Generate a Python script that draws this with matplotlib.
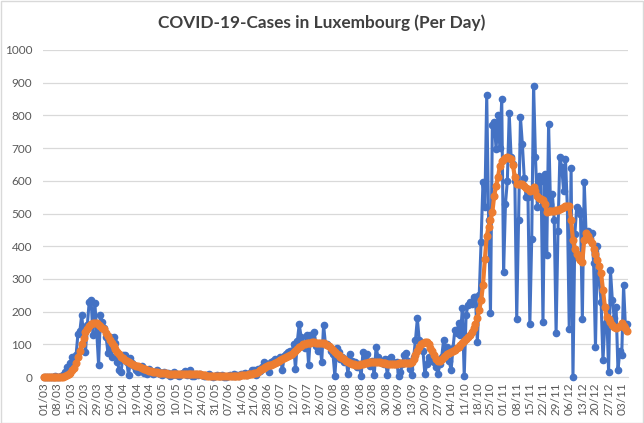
import matplotlib
matplotlib.use("Agg")
import matplotlib.pyplot as plt
import numpy as np
from matplotlib.patches import Rectangle

title = "COVID-19-Cases in Luxembourg (Per Day)"

tick_labels = ["01/03", "08/03", "15/03", "22/03", "29/03", "05/04", "12/04", "19/04",
               "26/04", "03/05", "10/05", "17/05", "24/05", "31/05", "07/06", "14/06",
               "21/06", "28/06", "05/07", "12/07", "19/07", "26/07", "02/08", "09/08",
               "16/08", "23/08", "30/08", "06/09", "13/09", "20/09", "27/09", "04/10",
               "11/10", "18/10", "25/10", "01/11", "08/11", "15/11", "22/11", "29/11",
               "06/12", "13/12", "20/12", "27/12", "03/11"]

daily_cases = [
    0, 0, 0, 0, 1, 0, 2, 1, 0, 3,
    5, 16, 31, 24, 42, 62, 55, 67, 133, 140,
    190, 125, 77, 160, 230, 235, 128, 227, 139, 37,
    190, 168, 150, 123, 73, 123, 62, 123, 103, 47,
    21, 16, 67, 67, 47, 5, 57, 42, 35, 20,
    15, 25, 33, 12, 19, 10, 25, 16, 8, 12,
    20, 14, 8, 5, 16, 10, 12, 3, 7, 15,
    10, 5, 2, 8, 12, 18, 6, 10, 20, 4,
    3, 8, 6, 10, 5, 4, 3, 6, 8, 2,
    1, 3, 5, 2, 4, 7, 1, 0, 3, 5,
    4, 8, 2, 6, 3, 10, 8, 12, 5, 8,
    12, 20, 22, 5, 25, 18, 30, 45, 38, 40,
    15, 45, 50, 55, 45, 55, 60, 20, 65, 70,
    78, 80, 75, 100, 25, 110, 162, 123, 100, 90,
    128, 37, 128, 110, 139, 95, 80, 100, 47, 159,
    100, 100, 95, 80, 70, 3, 90, 75, 55, 60,
    45, 55, 10, 70, 50, 40, 45, 30, 40, 2,
    75, 60, 70, 40, 35, 50, 5, 93, 60, 47,
    45, 40, 55, 5, 55, 60, 47, 40, 47, 3,
    15, 40, 67, 72, 50, 26, 5, 60, 113, 179,
    113, 103, 80, 10, 40, 62, 57, 50, 47, 30,
    10, 40, 62, 113, 80, 93, 50, 20, 88, 144,
    134, 164, 130, 210, 3, 190, 220, 230, 224, 245,
    244, 107, 250, 414, 597, 521, 862, 480, 195, 771,
    779, 697, 801, 700, 850, 321, 530, 600, 806, 672,
    650, 600, 178, 479, 794, 713, 610, 550, 551, 161,
    423, 891, 672, 519, 616, 600, 168, 621, 372, 774,
    530, 560, 480, 134, 448, 672, 641, 570, 667, 519,
    148, 640, 0, 438, 519, 510, 500, 178, 596, 438,
    448, 424, 440, 350, 92, 402, 295, 229, 51, 163,
    200, 15, 326, 234, 180, 214, 20, 81, 66, 280,
    150, 163,
]

avg_cases = [
    0, 0, 0, 0, 0, 0, 0, 1, 1, 1,
    1, 3, 5, 8, 13, 20, 28, 42, 60, 80,
    100, 120, 137, 148, 156, 161, 165, 166, 164, 160,
    156, 150, 146, 136, 124, 112, 103, 95, 86, 78,
    70, 62, 57, 52, 48, 45, 42, 39, 37, 35,
    33, 31, 29, 26, 23, 21, 19, 18, 16, 15,
    14, 13, 12, 12, 11, 11, 10, 10, 9, 9,
    9, 9, 8, 8, 8, 9, 9, 9, 10, 10,
    9, 9, 8, 8, 7, 5, 5, 4, 4, 4,
    4, 4, 4, 3, 3, 3, 3, 3, 3, 3,
    3, 4, 4, 4, 4, 5, 6, 7, 7, 8,
    9, 10, 12, 13, 16, 20, 23, 27, 30, 33,
    36, 38, 41, 44, 47, 50, 52, 55, 58, 61,
    64, 67, 71, 75, 80, 85, 91, 96, 100, 102,
    104, 104, 105, 106, 106, 105, 105, 104, 104, 103,
    101, 98, 94, 88, 82, 75, 70, 66, 62, 58,
    54, 50, 47, 44, 41, 39, 38, 37, 38, 39,
    41, 43, 44, 45, 46, 47, 47, 47, 46, 45,
    44, 43, 42, 41, 41, 40, 40, 41, 41, 42,
    42, 42, 43, 43, 44, 44, 45, 55, 68, 80,
    92, 100, 104, 106, 106, 100, 90, 80, 68, 56,
    48, 50, 55, 60, 65, 70, 73, 76, 80, 84,
    88, 92, 98, 104, 110, 116, 122, 128, 138, 150,
    163, 180, 205, 235, 280, 360, 430, 460, 480, 504,
    555, 585, 611, 645, 660, 667, 670, 672, 670, 667,
    647, 611, 591, 591, 591, 591, 585, 578, 574, 570,
    575, 580, 570, 555, 548, 545, 540, 530, 504, 507,
    509, 509, 509, 510, 512, 514, 517, 520, 524, 524,
    524, 480, 419, 390, 375, 363, 357, 353, 420, 439,
    430, 419, 410, 393, 375, 358, 338, 317, 265, 215,
    184, 176, 169, 160, 152, 149, 152, 155, 164, 155,
    149, 140,
]

y_ticks = list(range(0, 1001, 100))

plt.rcParams['font.family'] = ['Lato', 'DejaVu Sans']

fig = plt.figure(figsize=(6.44, 4.23), dpi=100)
ax = fig.add_axes([0.0672, 0.1087, 0.9084, 0.7731])

x = np.arange(len(daily_cases))
ax.plot(x, daily_cases, color='#4472C4', lw=2.2, marker='o', ms=4.5,
        zorder=3, clip_on=False)
ax.plot(x, avg_cases, color='#ED7D31', lw=3.0, marker='o', ms=4.8,
        zorder=4, clip_on=False)

ax.set_xlim(-0.5, len(daily_cases) - 0.5)
ax.set_ylim(y_ticks[0], y_ticks[-1])
ax.set_yticks(y_ticks)
ax.set_xticks(np.arange(len(tick_labels)) * 7)
ax.set_xticklabels(tick_labels, rotation=90)

ax.grid(axis='y', color='#d9d9d9', lw=0.9)
ax.set_axisbelow(True)
for s in ['top', 'right', 'left']:
    ax.spines[s].set_visible(False)
ax.spines['bottom'].set_color('#d9d9d9')
ax.spines['bottom'].set_zorder(1)
ax.tick_params(axis='both', length=0, colors='#595959', labelsize=8.5)
ax.tick_params(axis='y', pad=8)
ax.tick_params(axis='x', pad=4)

fig.text(0.5, 0.9456, title, ha='center', va='center', fontsize=12.4,
         fontweight='bold', color='#404040')
fig.patches.append(Rectangle((0.001, 0.001), 0.997, 0.997, transform=fig.transFigure,
                             fill=False, edgecolor='#d9d9d9', lw=1))

fig.savefig('out.png', dpi=100)
